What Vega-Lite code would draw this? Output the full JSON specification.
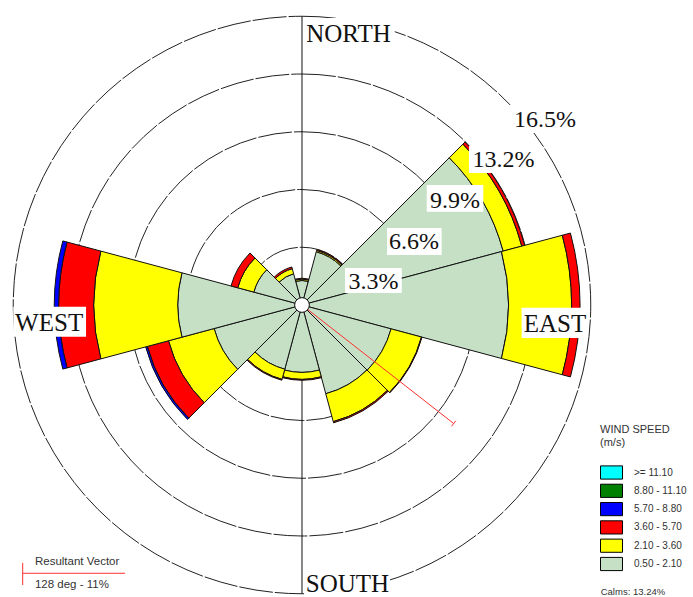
{
  "$schema": "https://vega.github.io/schema/vega-lite/v6.json",
  "width": 693,
  "height": 597,
  "autosize": "none",
  "padding": 0,
  "background": "white",
  "config": {"view": {"stroke": null}},
  "data": {"values": [{}]},
  "encoding": {
    "x": {"datum": 0, "type": "quantitative", "scale": {"domain": [-17.257, 22.343], "nice": false, "zero": false}, "axis": null},
    "y": {"datum": 0, "type": "quantitative", "scale": {"domain": [-16.686, 17.429], "nice": false, "zero": false}, "axis": null}
  },
  "layer": [
    {
      "data": {"values": [{"ring": 3.3}, {"ring": 6.6}, {"ring": 9.9}, {"ring": 13.2}, {"ring": 16.5}]},
      "mark": {"type": "arc", "fill": "white", "fillOpacity": 0, "stroke": "#222", "strokeWidth": 1, "strokeDash": [34, 2]},
      "encoding": {
        "theta": {"datum": 0, "type": "quantitative", "scale": {"type": "linear", "domain": [0, 360], "range": [0, 6.283185307179586], "nice": false, "zero": false}},
        "theta2": {"datum": 360},
        "radius": {"field": "ring", "type": "quantitative", "scale": {"type": "linear", "domain": [0, 16.5], "range": [0, 288.75], "nice": false, "zero": true}},
        "radius2": {"datum": 0}
      }
    },
    {
      "mark": {"type": "rule", "color": "#111", "strokeWidth": 1},
      "encoding": {"y": {"datum": -16.5}, "y2": {"datum": 16.5}}
    },
    {
      "data": {"values": [
        {"dir": 0, "k": 1, "speed": "0.50 - 2.10", "f": 1.4},
        {"dir": 0, "k": 2, "speed": "2.10 - 3.60", "f": 0.08},
        {"dir": 0, "k": 3, "speed": "3.60 - 5.70", "f": 0.05},
        {"dir": 30, "k": 1, "speed": "0.50 - 2.10", "f": 3.15},
        {"dir": 30, "k": 2, "speed": "2.10 - 3.60", "f": 0.08},
        {"dir": 30, "k": 3, "speed": "3.60 - 5.70", "f": 0.05},
        {"dir": 60, "k": 1, "speed": "0.50 - 2.10", "f": 11.9},
        {"dir": 60, "k": 2, "speed": "2.10 - 3.60", "f": 1.1},
        {"dir": 60, "k": 3, "speed": "3.60 - 5.70", "f": 0.17},
        {"dir": 90, "k": 1, "speed": "0.50 - 2.10", "f": 11.8},
        {"dir": 90, "k": 2, "speed": "2.10 - 3.60", "f": 3.6},
        {"dir": 90, "k": 3, "speed": "3.60 - 5.70", "f": 0.48},
        {"dir": 120, "k": 1, "speed": "0.50 - 2.10", "f": 5.27},
        {"dir": 120, "k": 2, "speed": "2.10 - 3.60", "f": 1.8},
        {"dir": 120, "k": 3, "speed": "3.60 - 5.70", "f": 0.03},
        {"dir": 150, "k": 1, "speed": "0.50 - 2.10", "f": 5.25},
        {"dir": 150, "k": 2, "speed": "2.10 - 3.60", "f": 1.65},
        {"dir": 150, "k": 3, "speed": "3.60 - 5.70", "f": 0.07},
        {"dir": 180, "k": 1, "speed": "0.50 - 2.10", "f": 3.85},
        {"dir": 180, "k": 2, "speed": "2.10 - 3.60", "f": 0.4},
        {"dir": 180, "k": 3, "speed": "3.60 - 5.70", "f": 0.05},
        {"dir": 210, "k": 1, "speed": "0.50 - 2.10", "f": 3.8},
        {"dir": 210, "k": 2, "speed": "2.10 - 3.60", "f": 0.6},
        {"dir": 210, "k": 3, "speed": "3.60 - 5.70", "f": 0.05},
        {"dir": 240, "k": 1, "speed": "0.50 - 2.10", "f": 5.2},
        {"dir": 240, "k": 2, "speed": "2.10 - 3.60", "f": 2.7},
        {"dir": 240, "k": 3, "speed": "3.60 - 5.70", "f": 1.25},
        {"dir": 240, "k": 4, "speed": "5.70 - 8.80", "f": 0.1},
        {"dir": 270, "k": 1, "speed": "0.50 - 2.10", "f": 7.1},
        {"dir": 270, "k": 2, "speed": "2.10 - 3.60", "f": 4.8},
        {"dir": 270, "k": 3, "speed": "3.60 - 5.70", "f": 2.0},
        {"dir": 270, "k": 4, "speed": "5.70 - 8.80", "f": 0.25},
        {"dir": 300, "k": 1, "speed": "0.50 - 2.10", "f": 2.85},
        {"dir": 300, "k": 2, "speed": "2.10 - 3.60", "f": 0.95},
        {"dir": 300, "k": 3, "speed": "3.60 - 5.70", "f": 0.4},
        {"dir": 330, "k": 1, "speed": "0.50 - 2.10", "f": 1.85},
        {"dir": 330, "k": 2, "speed": "2.10 - 3.60", "f": 0.3},
        {"dir": 330, "k": 3, "speed": "3.60 - 5.70", "f": 0.1}
      ]},
      "transform": [
        {"stack": "f", "groupby": ["dir"], "sort": [{"field": "k", "order": "ascending"}], "as": ["r0", "r1"]},
        {"calculate": "datum.dir - 15", "as": "a0"},
        {"calculate": "datum.dir + 15", "as": "a1"}
      ],
      "mark": {"type": "arc", "stroke": "#111", "strokeWidth": 1},
      "encoding": {
        "theta": {"field": "a0", "type": "quantitative"},
        "theta2": {"field": "a1"},
        "radius": {"field": "r1", "type": "quantitative"},
        "radius2": {"field": "r0"},
        "fill": {
          "field": "speed", "type": "nominal",
          "scale": {
            "domain": [">= 11.10", "8.80 - 11.10", "5.70 - 8.80", "3.60 - 5.70", "2.10 - 3.60", "0.50 - 2.10"],
            "range": ["#00ffff", "#008000", "#0000ff", "#ff0000", "#ffff00", "#c6e0c6"]
          },
          "legend": {
            "title": ["WIND SPEED", "(m/s)"],
            "orient": "none", "legendX": 600, "legendY": 424,
            "symbolType": "M-1.667,-1H1.667V1H-1.667Z",
            "symbolSize": 174,
            "symbolStrokeColor": "#000", "symbolStrokeWidth": 1,
            "symbolOffset": 4,
            "labelFont": "Liberation Sans", "labelFontSize": 10, "labelColor": "#333", "labelOffset": 15,
            "titleFont": "Liberation Sans", "titleFontSize": 11, "titleFontWeight": "normal", "titleColor": "#333",
            "titleLineHeight": 13, "titlePadding": 17, "rowPadding": -0.7
          }
        }
      }
    },
    {
      "mark": {"type": "rule", "color": "#ff3030", "strokeWidth": 1},
      "encoding": {"x2": {"datum": 8.668}, "y2": {"datum": -6.773}}
    },
    {
      "mark": {"type": "rule", "color": "#ff3030", "strokeWidth": 1},
      "encoding": {"x": {"datum": 8.545}, "y": {"datum": -6.931}, "x2": {"datum": 8.791}, "y2": {"datum": -6.615}}
    },
    {
      "mark": {"type": "arc", "fill": "white", "stroke": "#111", "strokeWidth": 1},
      "encoding": {
        "theta": {"datum": 0, "type": "quantitative"},
        "theta2": {"datum": 360},
        "radius": {"datum": 0.42, "type": "quantitative"},
        "radius2": {"datum": 0}
      }
    },
    {"mark": {"type": "rect", "fill": "white"}, "encoding": {"x": {"datum": 0.12}, "x2": {"datum": 5.3}, "y": {"datum": 14.69}, "y2": {"datum": 16.4}}},
    {"mark": {"type": "rect", "fill": "white"}, "encoding": {"x": {"datum": 0.12}, "x2": {"datum": 5.03}, "y": {"datum": -17}, "y2": {"datum": -15.2}}},
    {"mark": {"type": "rect", "fill": "white"}, "encoding": {"x": {"datum": -16.5}, "x2": {"datum": -12.34}, "y": {"datum": -0.1}, "y2": {"datum": -1.81}}},
    {"mark": {"type": "rect", "fill": "white"}, "encoding": {"x": {"datum": 12.55}, "x2": {"datum": 16.34}, "y": {"datum": -0.15}, "y2": {"datum": -1.89}}},
    {"mark": {"type": "rect", "fill": "white"}, "encoding": {"x": {"datum": 11.77}, "x2": {"datum": 16.0}, "y": {"datum": 9.83}, "y2": {"datum": 11.43}}},
    {"mark": {"type": "rect", "fill": "white"}, "encoding": {"x": {"datum": 9.54}, "x2": {"datum": 13.49}, "y": {"datum": 7.54}, "y2": {"datum": 9.09}}},
    {"mark": {"type": "rect", "fill": "white"}, "encoding": {"x": {"datum": 7.13}, "x2": {"datum": 10.36}, "y": {"datum": 5.33}, "y2": {"datum": 6.86}}},
    {"mark": {"type": "rect", "fill": "white"}, "encoding": {"x": {"datum": 4.86}, "x2": {"datum": 7.98}, "y": {"datum": 2.86}, "y2": {"datum": 4.4}}},
    {"mark": {"type": "rect", "fill": "white"}, "encoding": {"x": {"datum": 2.46}, "x2": {"datum": 5.7}, "y": {"datum": 0.69}, "y2": {"datum": 2.11}}},
    {"mark": {"type": "text", "font": "Liberation Serif", "fontSize": 25, "color": "#111"}, "encoding": {"x": {"datum": 2.66}, "y": {"datum": 15.51}, "text": {"value": "NORTH"}}},
    {"mark": {"type": "text", "font": "Liberation Serif", "fontSize": 25, "color": "#111"}, "encoding": {"x": {"datum": 2.6}, "y": {"datum": -15.92}, "text": {"value": "SOUTH"}}},
    {"mark": {"type": "text", "font": "Liberation Serif", "fontSize": 25, "color": "#111"}, "encoding": {"x": {"datum": -14.45}, "y": {"datum": -1.0}, "text": {"value": "WEST"}}},
    {"mark": {"type": "text", "font": "Liberation Serif", "fontSize": 25, "color": "#111"}, "encoding": {"x": {"datum": 14.46}, "y": {"datum": -1.06}, "text": {"value": "EAST"}}},
    {"mark": {"type": "text", "font": "Liberation Serif", "fontSize": 24, "color": "#111"}, "encoding": {"x": {"datum": 13.89}, "y": {"datum": 10.57}, "text": {"value": "16.5%"}}},
    {"mark": {"type": "text", "font": "Liberation Serif", "fontSize": 24, "color": "#111"}, "encoding": {"x": {"datum": 11.51}, "y": {"datum": 8.29}, "text": {"value": "13.2%"}}},
    {"mark": {"type": "text", "font": "Liberation Serif", "fontSize": 24, "color": "#111"}, "encoding": {"x": {"datum": 8.74}, "y": {"datum": 5.94}, "text": {"value": "9.9%"}}},
    {"mark": {"type": "text", "font": "Liberation Serif", "fontSize": 24, "color": "#111"}, "encoding": {"x": {"datum": 6.4}, "y": {"datum": 3.6}, "text": {"value": "6.6%"}}},
    {"mark": {"type": "text", "font": "Liberation Serif", "fontSize": 24, "color": "#111"}, "encoding": {"x": {"datum": 4.09}, "y": {"datum": 1.31}, "text": {"value": "3.3%"}}},
    {
      "mark": {"type": "rule", "color": "#ff3030", "strokeWidth": 1},
      "encoding": {"x": {"datum": -15.96}, "x2": {"datum": -10.11}, "y": {"datum": -15.33}, "y2": {"datum": -15.33}}
    },
    {
      "mark": {"type": "rule", "color": "#ff3030", "strokeWidth": 1},
      "encoding": {"x": {"datum": -15.96}, "x2": {"datum": -15.96}, "y": {"datum": -14.74}, "y2": {"datum": -16.0}}
    },
    {"mark": {"type": "text", "font": "Liberation Sans", "fontSize": 11.5, "color": "#333", "align": "left"}, "encoding": {"x": {"datum": -15.26}, "y": {"datum": -14.69}, "text": {"value": "Resultant Vector"}}},
    {"mark": {"type": "text", "font": "Liberation Sans", "fontSize": 11.5, "color": "#333", "align": "left"}, "encoding": {"x": {"datum": -15.26}, "y": {"datum": -16.0}, "text": {"value": "128 deg - 11%"}}},
    {"mark": {"type": "text", "font": "Liberation Sans", "fontSize": 9.5, "color": "#333", "align": "left"}, "encoding": {"x": {"datum": 17.07}, "y": {"datum": -16.4}, "text": {"value": "Calms: 13.24%"}}}
  ]
}
